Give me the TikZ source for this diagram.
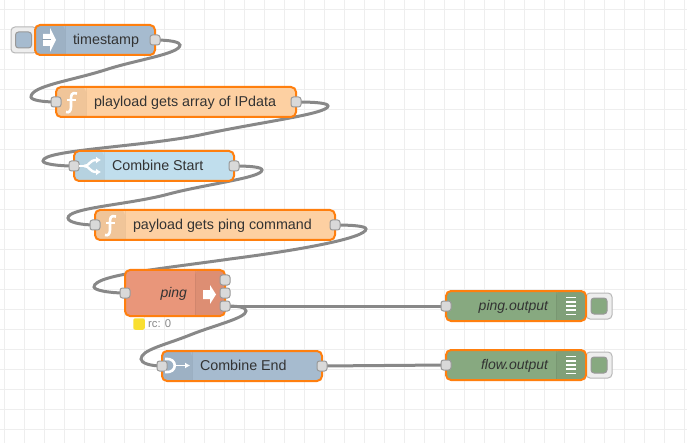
\documentclass[tikz,border=0pt]{standalone}
\usepackage{fontspec}
\setmainfont{Liberation Sans}
\usetikzlibrary{backgrounds,arrows.meta}
\definecolor{gridc}{HTML}{EEEEEE}
\definecolor{wirec}{HTML}{888888}
\definecolor{edgec}{HTML}{FF7F0E}
\definecolor{portc}{HTML}{D9D9D9}
\definecolor{portl}{HTML}{999999}
\definecolor{txtc}{HTML}{333333}
\definecolor{cblue}{HTML}{A6BBCF}
\definecolor{cfunc}{HTML}{FDD0A2}
\definecolor{cswitch}{HTML}{C0DEED}
\definecolor{cping}{HTML}{E9967A}
\definecolor{cgreen}{HTML}{87A980}
\definecolor{cyel}{HTML}{F9DF31}
\newcommand\ltxt[2]{\makebox[#1pt][l]{\hspace{38pt}\fontsize{14.3}{16}\selectfont #2}}
\newcommand\rtxt[2]{\makebox[#1pt][r]{\itshape #2\hspace{38pt}}}
\tikzset{
  x=1pt,y=-1pt,
  nr/.style={draw=edgec,line width=2pt,fill=#1,rounded corners=5pt,minimum height=30pt,
    inner sep=0pt,outer sep=0pt,text=txtc,font=\fontsize{14}{16}\selectfont,text height=11pt,text depth=2pt},
  shadeleft/.style={path picture={
    \fill[black,opacity=.05] (path picture bounding box.north west) rectangle ++(30,60);
    \draw[black,opacity=.05,line width=1pt] ([xshift=30pt]path picture bounding box.north west) -- ++(0,60);}},
  shaderight/.style={path picture={
    \fill[black,opacity=.05] (path picture bounding box.north east) rectangle ++(-30,60);
    \draw[black,opacity=.05,line width=1pt] ([xshift=-30pt]path picture bounding box.north east) -- ++(0,60);}},
  port/.style={draw=portl,line width=1pt,fill=portc,rounded corners=2.5pt,minimum size=10pt,inner sep=0pt,outer sep=0pt},
  wire/.style={draw=wirec,line width=3pt,line cap=round},
  gridl/.style={draw=gridc,line width=1pt},
  btnback/.style={draw=portl!70,fill=gridc,line width=1pt,rounded corners=4pt,minimum width=26pt,minimum height=26pt,inner sep=0pt},
  btn/.style={draw=portl,fill=#1,line width=1pt,rounded corners=3pt,minimum size=16pt,inner sep=0pt},
  iconw/.style={draw=white,line width=2.6pt},
  fnicon/.pic={
    \draw[white,line width=2.6pt] (21,-8.5) .. controls (15,-10.5) and (15,-6) .. (15,-2) -- (15,5) .. controls (15,9) and (13,11) .. (10,10);
    \draw[white,line width=1.6pt] (11,-2) -- (20,-2);},
  listicon/.pic={
    \foreach \yy in {-8.5,-4.2,0,4.2,8.5}{\draw[white,line width=1.5pt] (-5,\yy) -- (5,\yy);}},
}
\begin{document}
\begin{tikzpicture}
\useasboundingbox (0,0) rectangle (687,443);

% buttons behind nodes
\node[btnback] (tsbb) at (24,40) {};
\node[btn=cblue] (tsb) at (23.5,40) {};
\node[btnback] (pob) at (599,306) {};
\node[btn=cgreen] (pobi) at (599,306) {};
\node[btnback] (fob) at (599,365) {};
\node[btn=cgreen] (fobi) at (599,365) {};

% nodes
\node[nr=cblue,shadeleft,minimum width=120pt] (ts) at (95,40) {\ltxt{120}{timestamp}};
\node[nr=cfunc,shadeleft,minimum width=240pt] (arr) at (176,102) {\ltxt{240}{playload gets array of IPdata}};
\node[nr=cswitch,shadeleft,minimum width=160pt] (cs) at (154,166) {\ltxt{160}{Combine Start}};
\node[nr=cfunc,shadeleft,minimum width=240pt] (pay) at (215,225) {\ltxt{240}{payload gets ping command}};
\node[nr=cping,shaderight,minimum width=100pt,minimum height=46pt] (pg) at (175,293) {\rtxt{100}{ping}};
\node[nr=cblue,shadeleft,minimum width=160pt] (ce) at (242,366) {\ltxt{160}{Combine End}};
\node[nr=cgreen,shaderight,minimum width=140pt] (po) at (516,306) {\rtxt{140}{ping.output}};
\node[nr=cgreen,shaderight,minimum width=140pt] (fo) at (516,365) {\rtxt{140}{flow.output}};

% ports
\node[port] (tso) at (ts.east) {};
\node[port] (arri) at (arr.west) {};
\node[port] (arro) at (arr.east) {};
\node[port] (csi) at (cs.west) {};
\node[port] (cso) at (cs.east) {};
\node[port] (payi) at (pay.west) {};
\node[port] (payo) at (pay.east) {};
\node[port] (pgi) at (pg.west) {};
\node[port] (pga) at (225,280) {};
\node[port] (pgb) at (225,293) {};
\node[port] (pgc) at (225,306) {};
\node[port] (cei) at (ce.west) {};
\node[port] (ceo) at (ce.east) {};
\node[port] (poi) at (po.west) {};
\node[port] (foi) at (fo.west) {};

% icons
\fill[white] (43,34) -- (50,34) -- (50,28) -- (56,40) -- (50,52) -- (50,46) -- (43,46) -- cycle;
\draw[cblue!85!black,line width=1pt] (42,40) -- (51,40);
\pic at (arr.west) {fnicon};
\pic at (pay.west) {fnicon};
\draw[iconw] (79,166) -- (85,166);
\draw[iconw,line width=2.4pt,-{Latex[length=5pt,width=7pt]}] (84,166) .. controls (90,166) and (89,160) .. (101,160);
\draw[iconw,line width=2.4pt,-{Latex[length=5pt,width=7pt]}] (84,166) .. controls (90,166) and (89,172) .. (101,172);
\fill[white] (203,290) -- (210,290) -- (210,285) -- (216,294.5) -- (210,304) -- (210,299) -- (203,299) -- cycle;
\draw[iconw] (165,359) .. controls (178,357) and (178,374) .. (165,372);
\draw[iconw,line width=1.5pt,-{Latex[length=5pt,width=6pt]}] (175,365.5) -- (190,365.5);
\pic at (571,306) {listicon};
\pic at (571,365) {listicon};

% status
\node[fill=cyel,rounded corners=2pt,minimum size=11.5pt,inner sep=0pt] (st) at (139,324) {};
\node[anchor=west,inner sep=0pt,text=wirec,font=\fontsize{11.3}{13}\selectfont] (stt) at (148,324) {rc: 0};

\begin{pgfonlayer}{background}
  \fill[white] (0,0) rectangle (687,443);
  \foreach \gx in {4,24,...,684}{\draw[gridl] (\gx,0) -- (\gx,443);}
  \foreach \gy in {9.5,29.5,...,440}{\draw[gridl] (0,\gy) -- (687,\gy);}
  \draw[wire] (tso.center) .. controls (170,40) and (180,42) .. (180,45) .. controls (180,54) and (135,60) .. (105,70) .. controls (70,81) and (31,86) .. (31,97) .. controls (31,100) and (42,102) .. (arri.center);
  \draw[wire] (arro.center) .. controls (315,102) and (328,103) .. (328,106) .. controls (328,114) and (260,122) .. (200,135) .. controls (140,147) and (42,150) .. (43,161) .. controls (43,164) and (58,166) .. (csi.center);
  \draw[wire] (cso.center) .. controls (250,166) and (262,167) .. (262,170) .. controls (262,178) and (205,184) .. (165,195) .. controls (125,205) and (68,208) .. (68,218) .. controls (68,222) and (80,225) .. (payi.center);
  \draw[wire] (payo.center) .. controls (352,225) and (366,226) .. (366,229) .. controls (366,238) and (300,250) .. (230,259) .. controls (160,269) and (94,275) .. (94,287) .. controls (94,290) and (108,293) .. (pgi.center);
  \draw[wire] (pgc.center) .. controls (238,306) and (246,307) .. (246,311) .. controls (246,318) and (215,325) .. (190,335) .. controls (165,345) and (141,350) .. (141,359) .. controls (141,363) and (150,366) .. (cei.center);
  \draw[wire] (pgc.center) -- (poi.center);
  \draw[wire] (ceo.center) -- (foi.center);
\end{pgfonlayer}
\end{tikzpicture}
\end{document}
